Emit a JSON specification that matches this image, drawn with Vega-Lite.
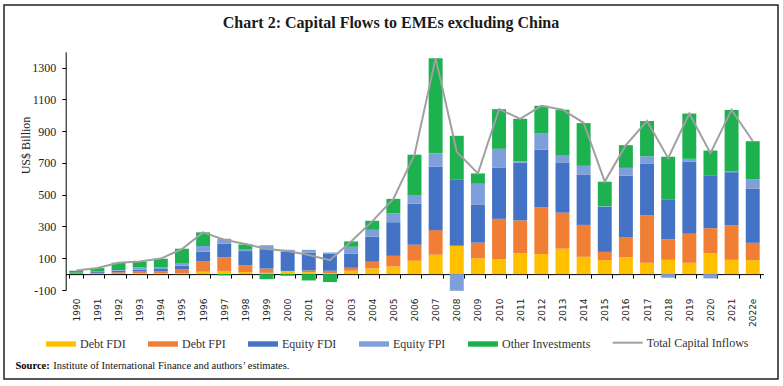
{
  "$schema": "https://vega.github.io/schema/vega-lite/v6.json",
  "width": 774,
  "height": 374,
  "autosize": {"type": "none"},
  "padding": {"left": 4, "top": 5, "right": 5, "bottom": 7},
  "background": "white",
  "config": {
    "view": {"stroke": "#222222", "strokeWidth": 1.5},
    "font": "Liberation Serif"
  },
  "title": {
    "text": "Chart 2: Capital Flows to EMEs excluding China",
    "font": "Liberation Serif",
    "fontSize": 16,
    "fontWeight": "bold",
    "color": "#1a1a1a",
    "anchor": "middle",
    "frame": "group",
    "baseline": "alphabetic",
    "offset": -22,
    "dy": 17
  },
  "data": {
    "values": [
      {"year": "1990", "Debt FDI": 1, "Debt FPI": 3, "Equity FDI": 3, "Equity FPI": 1, "Other Investments": 14, "Total": 23},
      {"year": "1991", "Debt FDI": 2, "Debt FPI": 6, "Equity FDI": 6, "Equity FPI": 2, "Other Investments": 22, "Total": 38},
      {"year": "1992", "Debt FDI": 3, "Debt FPI": 9, "Equity FDI": 10, "Equity FPI": 4, "Other Investments": 45, "Total": 72},
      {"year": "1993", "Debt FDI": 4, "Debt FPI": 12, "Equity FDI": 12, "Equity FPI": 14, "Other Investments": 38, "Total": 80},
      {"year": "1994", "Debt FDI": 4, "Debt FPI": 13, "Equity FDI": 15, "Equity FPI": 10, "Other Investments": 55, "Total": 98},
      {"year": "1995", "Debt FDI": 7, "Debt FPI": 25, "Equity FDI": 21, "Equity FPI": 17, "Other Investments": 90, "Total": 158},
      {"year": "1996", "Debt FDI": 15, "Debt FPI": 67, "Equity FDI": 59, "Equity FPI": 36, "Other Investments": 86, "Total": 263},
      {"year": "1997", "Debt FDI": 20, "Debt FPI": 86, "Equity FDI": 86, "Equity FPI": 31, "Other Investments": -8, "Total": 217},
      {"year": "1998", "Debt FDI": 13, "Debt FPI": 42, "Equity FDI": 90, "Equity FPI": 13, "Other Investments": 29, "Total": 190},
      {"year": "1999", "Debt FDI": 8, "Debt FPI": 27, "Equity FDI": 122, "Equity FPI": 25, "Other Investments": -32, "Total": 158},
      {"year": "2000", "Debt FDI": 17, "Debt FPI": 3, "Equity FDI": 120, "Equity FPI": 13, "Other Investments": -10, "Total": 146},
      {"year": "2001", "Debt FDI": 13, "Debt FPI": 10, "Equity FDI": 113, "Equity FPI": 17, "Other Investments": -40, "Total": 120},
      {"year": "2002", "Debt FDI": 6, "Debt FPI": 15, "Equity FDI": 107, "Equity FPI": 8, "Other Investments": -50, "Total": 88},
      {"year": "2003", "Debt FDI": 21, "Debt FPI": 19, "Equity FDI": 88, "Equity FPI": 44, "Other Investments": 34, "Total": 206},
      {"year": "2004", "Debt FDI": 36, "Debt FPI": 42, "Equity FDI": 157, "Equity FPI": 44, "Other Investments": 57, "Total": 332},
      {"year": "2005", "Debt FDI": 48, "Debt FPI": 67, "Equity FDI": 212, "Equity FPI": 55, "Other Investments": 92, "Total": 474},
      {"year": "2006", "Debt FDI": 84, "Debt FPI": 101, "Equity FDI": 258, "Equity FPI": 55, "Other Investments": 254, "Total": 752},
      {"year": "2007", "Debt FDI": 122, "Debt FPI": 155, "Equity FDI": 399, "Equity FPI": 86, "Other Investments": 598, "Total": 1360},
      {"year": "2008", "Debt FDI": 178, "Debt FPI": 0, "Equity FDI": 420, "Equity FPI": -105, "Other Investments": 273, "Total": 770},
      {"year": "2009", "Debt FDI": 99, "Debt FPI": 99, "Equity FDI": 241, "Equity FPI": 130, "Other Investments": 65, "Total": 634},
      {"year": "2010", "Debt FDI": 94, "Debt FPI": 254, "Equity FDI": 321, "Equity FPI": 120, "Other Investments": 250, "Total": 1039},
      {"year": "2011", "Debt FDI": 132, "Debt FPI": 206, "Equity FDI": 363, "Equity FPI": 8, "Other Investments": 269, "Total": 978},
      {"year": "2012", "Debt FDI": 126, "Debt FPI": 296, "Equity FDI": 361, "Equity FPI": 105, "Other Investments": 172, "Total": 1060},
      {"year": "2013", "Debt FDI": 160, "Debt FPI": 227, "Equity FDI": 313, "Equity FPI": 50, "Other Investments": 285, "Total": 1035},
      {"year": "2014", "Debt FDI": 109, "Debt FPI": 201, "Equity FDI": 315, "Equity FPI": 57, "Other Investments": 269, "Total": 953},
      {"year": "2015", "Debt FDI": 88, "Debt FPI": 52, "Equity FDI": 283, "Equity FPI": 4, "Other Investments": 155, "Total": 583},
      {"year": "2016", "Debt FDI": 107, "Debt FPI": 126, "Equity FDI": 386, "Equity FPI": 50, "Other Investments": 143, "Total": 812},
      {"year": "2017", "Debt FDI": 71, "Debt FPI": 300, "Equity FDI": 323, "Equity FPI": 48, "Other Investments": 222, "Total": 964},
      {"year": "2018", "Debt FDI": 90, "Debt FPI": 130, "Equity FDI": 248, "Equity FPI": -23, "Other Investments": 271, "Total": 730},
      {"year": "2019", "Debt FDI": 71, "Debt FPI": 183, "Equity FDI": 455, "Equity FPI": 17, "Other Investments": 285, "Total": 1011},
      {"year": "2020", "Debt FDI": 132, "Debt FPI": 157, "Equity FDI": 330, "Equity FPI": -27, "Other Investments": 159, "Total": 762},
      {"year": "2021", "Debt FDI": 90, "Debt FPI": 218, "Equity FDI": 334, "Equity FPI": 4, "Other Investments": 388, "Total": 1034},
      {"year": "2022e", "Debt FDI": 88, "Debt FPI": 109, "Equity FDI": 340, "Equity FPI": 61, "Other Investments": 239, "Total": 838}
    ]
  },
  "layer": [
    {
      "transform": [
        {"fold": ["Debt FDI", "Debt FPI", "Equity FDI", "Equity FPI", "Other Investments"], "as": ["type", "value"]}
      ],
      "mark": {"type": "bar"},
      "encoding": {
        "x": {
          "field": "year",
          "type": "nominal",
          "sort": null,
          "scale": {"range": [61.7, 759.3], "paddingInner": 0.34, "paddingOuter": 0.17},
          "axis": {
            "orient": "bottom",
            "offset": -104.9,
            "domain": true,
            "domainColor": "#000000",
            "domainWidth": 1,
            "ticks": true,
            "tickBand": "extent",
            "tickColor": "#000000",
            "tickSize": 4,
            "labelAngle": 270,
            "labelPadding": 20,
            "labelFont": "DejaVu Sans",
            "labelFontSize": 9,
            "labelColor": "#222222",
            "grid": false,
            "title": "Source:",
            "titleFont": "Liberation Serif",
            "titleFontSize": 10.5,
            "titleFontWeight": "bold",
            "titleColor": "#000000",
            "titleX": 11,
            "titleY": 94,
            "titleAlign": "left",
            "titleBaseline": "alphabetic",
            "titleAngle": 0
          }
        },
        "y": {
          "field": "value",
          "type": "quantitative",
          "stack": "zero",
          "scale": {"domain": [-100, 1400], "range": [285, 46.8], "nice": false, "zero": false},
          "axis": {
            "orient": "left",
            "offset": -61.7,
            "values": [-100, 100, 300, 500, 700, 900, 1100, 1300],
            "labelExpr": "datum.value + ''",
            "domain": true,
            "domainColor": "#000000",
            "ticks": true,
            "tickColor": "#000000",
            "tickSize": 4,
            "labelPadding": 6,
            "labelFont": "Liberation Serif",
            "labelFontSize": 12,
            "labelColor": "#222222",
            "grid": false,
            "title": "US$ Billion",
            "titleFont": "Liberation Serif",
            "titleFontSize": 12,
            "titleFontWeight": "normal",
            "titleColor": "#222222",
            "titleX": -39.7,
            "titleY": 140,
            "titleAngle": 270,
            "titleAlign": "center",
            "titleBaseline": "middle"
          }
        },
        "order": {"field": "type", "sort": "ascending"},
        "fill": {
          "field": "type",
          "type": "nominal",
          "scale": {
            "domain": ["Debt FDI", "Debt FPI", "Equity FDI", "Equity FPI", "Other Investments"],
            "range": ["#FFC000", "#F07F35", "#4472C4", "#7F9FDA", "#1DB150"]
          },
          "legend": {
            "orient": "none",
            "legendX": 42,
            "legendY": 324,
            "direction": "horizontal",
            "title": null,
            "symbolType": "M-1,-0.18H1V0.18H-1Z",
            "symbolSize": 900,
            "symbolStrokeWidth": 0,
            "labelFont": "Liberation Serif",
            "labelFontSize": 12,
            "labelColor": "#333333",
            "labelOffset": 4,
            "columnPadding": 22,
            "padding": 0
          }
        }
      }
    },
    {
      "mark": {"type": "line", "strokeWidth": 2},
      "encoding": {
        "x": {
          "field": "year",
          "type": "nominal",
          "sort": null,
          "scale": {"range": [61.7, 759.3], "paddingInner": 0.34, "paddingOuter": 0.17},
          "axis": {
            "orient": "bottom",
            "offset": -104.9,
            "domain": false,
            "ticks": false,
            "labels": false,
            "grid": false,
            "title": "Institute of International Finance and authors’ estimates.",
            "titleFont": "Liberation Serif",
            "titleFontSize": 10.5,
            "titleFontWeight": "normal",
            "titleColor": "#111111",
            "titleX": 48.7,
            "titleY": 94,
            "titleAlign": "left",
            "titleBaseline": "alphabetic",
            "titleAngle": 0
          }
        },
        "y": {
          "field": "Total",
          "type": "quantitative",
          "scale": {"domain": [-100, 1400], "range": [285, 46.8], "nice": false, "zero": false},
          "axis": {"title": "US$ Billion"}
        },
        "stroke": {
          "datum": "Total Capital Inflows",
          "scale": {"range": ["#A0A0A0"]},
          "legend": {
            "orient": "none",
            "legendX": 607.7,
            "legendY": 321.7,
            "title": null,
            "symbolType": "stroke",
            "symbolSize": 900,
            "symbolStrokeWidth": 2,
            "labelFont": "Liberation Serif",
            "labelFontSize": 12,
            "labelColor": "#333333",
            "labelOffset": 3,
            "padding": 0
          }
        }
      }
    }
  ],
  "resolve": {"axis": {"x": "independent"}}
}
